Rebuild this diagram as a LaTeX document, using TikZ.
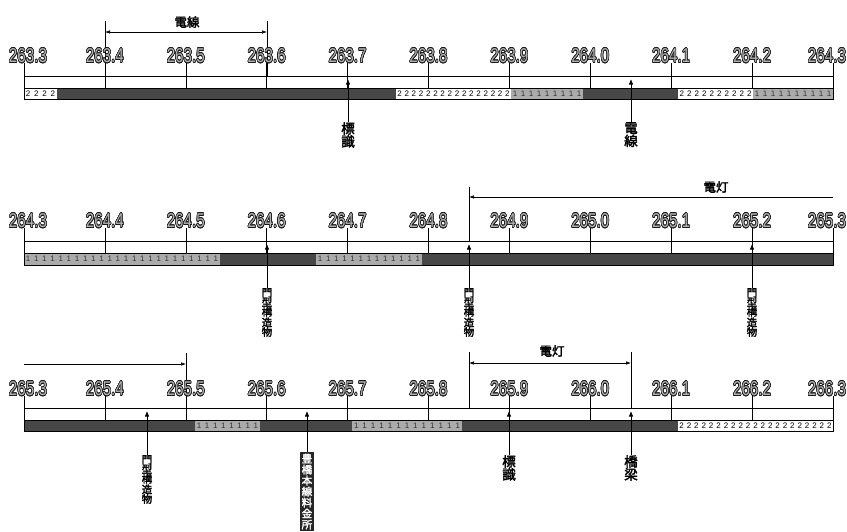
\documentclass[tikz,border=0pt]{standalone}
\usepackage{fontspec}
\setmainfont{Liberation Sans}
\newfontfamily\jpf{Noto Sans CJK JP}[FakeBold=2.5]
\usepackage[copies]{contour}
\contourlength{0.7pt}
\usetikzlibrary{arrows.meta}

\tikzset{
  kmlbl/.style={inner sep=0pt, font=\fontsize{20}{20}\selectfont},
  kmtick/.style={line width=0.6pt},
  darkband/.style={fill=black!72},
  lightband/.style={fill=black!33},
  whiteband/.style={fill=white},
  twos/.style={inner sep=0pt, font=\fontsize{8}{8}\selectfont},
  ones/.style={inner sep=0pt, font=\fontsize{8}{8}\selectfont, text=black!80},
  vlbl/.style={inner sep=0pt, anchor=north, align=center, font=\jpf\fontsize{10.5}{9.6}\selectfont},
  vlblbig/.style={vlbl, font=\jpf\fontsize{13.5}{13}\selectfont},
  tollbox/.style={vlbl, fill=black!85, text=white, inner sep=1.5pt, font=\jpf\fontsize{10.5}{11}\selectfont},
  toplbl/.style={inner sep=0pt, font=\jpf\fontsize{12.5}{12}\selectfont},
  uparr/.style={line width=0.6pt, -{Triangle[length=5pt,width=4pt]}},
  dimarr/.style={line width=0.6pt, {Latex[length=5pt,width=3.5pt]}-{Latex[length=5pt,width=3.5pt]}},
  onearr/.style={line width=0.6pt, -{Latex[length=5pt,width=3.5pt]}},
}
\newcommand\kmnum[1]{\scalebox{0.76}[1]{\textcolor{black!30}{\contour{black!90}{#1}}}}

\begin{document}
\begin{tikzpicture}[x=1pt,y=-1pt]
\useasboundingbox (0,0) rectangle (847,531);

% ---------- row 1 : 263.3 -- 264.3
\foreach \xa/\xb in {57/396,583/678} \fill[darkband] (\xa,88) rectangle (\xb,99);
\foreach \xa/\xb in {511/583,753/833} {
  \fill[lightband] (\xa,88) rectangle (\xb,99);
  \pgfmathtruncatemacro\nn{round((\xb-\xa)/8.2)}
  \foreach \k in {1,...,\nn} \node[ones] at ({\xa+(\k-0.5)*(\xb-\xa)/\nn},93.5) {1};
}
\foreach \xa/\xb in {24/57,396/511,678/753} {
  \fill[whiteband] (\xa,88) rectangle (\xb,99);
  \pgfmathtruncatemacro\nn{round((\xb-\xa)/7.4)}
  \foreach \k in {1,...,\nn} \node[twos] at ({\xa+(\k-0.5)*(\xb-\xa)/\nn},93.5) {2};
}
\draw[line width=0.6pt] (24,88) rectangle (833,99);
\draw[kmtick] (24,76) -- (833,76);
% wires over 263.4--263.6
\draw[kmtick] (105,21) -- (105,76);
\draw[kmtick] (267,21) -- (267,76);
\coordinate (w1) at (105,32); \coordinate (w2) at (267,32);
\draw[dimarr] (w1) -- (w2);
\node[toplbl] (wirelbl) at (187,22) {電線};
\foreach \i/\dx in {0/4,1/0,2/0,3/0,4/0,5/0,6/0,7/0,8/0,9/0,10/-6} {
  \pgfmathsetmacro\xx{24+80.9*\i}
  \pgfmathtruncatemacro\kt{2633+\i}
  \pgfmathtruncatemacro\ka{(\kt+0.5)/10}
  \pgfmathtruncatemacro\kb{\kt-10*\ka}
  \node[kmlbl] (a\i) at (\xx+\dx,56) {\kmnum{\ka.\kb}};
  \draw[kmtick] (\xx,63) -- (\xx,88);
}
\node[vlblbig] (sign1) at (348,122) {標\\識};
\node[vlblbig] (wire1) at (631,122) {電\\線};
\coordinate (t1) at (348,79.5); \coordinate (t2) at (631,79.5);
\draw[uparr] (sign1.north) -- (t1);
\draw[uparr] (wire1.north) -- (t2);

% ---------- row 2 : 264.3 -- 265.3
\foreach \xa/\xb in {220/316,422/833} \fill[darkband] (\xa,253) rectangle (\xb,265);
\foreach \xa/\xb in {24/220,316/422} {
  \fill[lightband] (\xa,253) rectangle (\xb,265);
  \pgfmathtruncatemacro\nn{round((\xb-\xa)/8.2)}
  \foreach \k in {1,...,\nn} \node[ones] at ({\xa+(\k-0.5)*(\xb-\xa)/\nn},259) {1};
}
\draw[line width=0.6pt] (24,253) rectangle (833,265);
\draw[kmtick] (24,241) -- (833,241);
% lighting from 264.85 onwards
\draw[kmtick] (469,187) -- (469,241);
\coordinate (l1) at (469,197); \coordinate (l2) at (833,197);
\draw[onearr] (l2) -- (l1);
\node[toplbl] (lamplbl1) at (716,187) {電灯};
\foreach \i/\dx in {0/4,1/0,2/0,3/0,4/0,5/0,6/0,7/0,8/0,9/0,10/-6} {
  \pgfmathsetmacro\xx{24+80.9*\i}
  \pgfmathtruncatemacro\kt{2643+\i}
  \pgfmathtruncatemacro\ka{(\kt+0.5)/10}
  \pgfmathtruncatemacro\kb{\kt-10*\ka}
  \node[kmlbl] (b\i) at (\xx+\dx,221) {\kmnum{\ka.\kb}};
  \draw[kmtick] (\xx,228) -- (\xx,253);
}
\node[vlbl] (gate1) at (267,288) {門\\型\\構\\造\\物};
\node[vlbl] (gate2) at (469,288) {門\\型\\構\\造\\物};
\node[vlbl] (gate3) at (752,288) {門\\型\\構\\造\\物};
\coordinate (t3) at (267,244.5); \coordinate (t4) at (469,244.5); \coordinate (t5) at (752,244.5);
\draw[uparr] (gate1.north) -- (t3);
\draw[uparr] (gate2.north) -- (t4);
\draw[uparr] (gate3.north) -- (t5);

% ---------- row 3 : 265.3 -- 266.3
\foreach \xa/\xb in {24/195,260/352,462/678} \fill[darkband] (\xa,420) rectangle (\xb,431);
\foreach \xa/\xb in {195/260,352/462} {
  \fill[lightband] (\xa,420) rectangle (\xb,431);
  \pgfmathtruncatemacro\nn{round((\xb-\xa)/8.2)}
  \foreach \k in {1,...,\nn} \node[ones] at ({\xa+(\k-0.5)*(\xb-\xa)/\nn},425.5) {1};
}
\foreach \xa/\xb in {678/833} {
  \fill[whiteband] (\xa,420) rectangle (\xb,431);
  \pgfmathtruncatemacro\nn{round((\xb-\xa)/7.4)}
  \foreach \k in {1,...,\nn} \node[twos] at ({\xa+(\k-0.5)*(\xb-\xa)/\nn},425.5) {2};
}
\draw[line width=0.6pt] (24,420) rectangle (833,431);
\draw[kmtick] (24,408) -- (833,408);
% lighting continued up to 265.5
\draw[kmtick] (186,353) -- (186,408);
\coordinate (l3) at (24,364); \coordinate (l4) at (186,364);
\draw[onearr] (l3) -- (l4);
% lighting 265.85 -- 266.05
\draw[kmtick] (469,352) -- (469,408);
\draw[kmtick] (631,352) -- (631,408);
\coordinate (l5) at (469,363); \coordinate (l6) at (631,363);
\draw[dimarr] (l5) -- (l6);
\node[toplbl] (lamplbl2) at (552,351) {電灯};
\foreach \i/\dx in {0/4,1/0,2/0,3/0,4/0,5/0,6/0,7/0,8/0,9/0,10/-6} {
  \pgfmathsetmacro\xx{24+80.9*\i}
  \pgfmathtruncatemacro\kt{2653+\i}
  \pgfmathtruncatemacro\ka{(\kt+0.5)/10}
  \pgfmathtruncatemacro\kb{\kt-10*\ka}
  \node[kmlbl] (c\i) at (\xx+\dx,389) {\kmnum{\ka.\kb}};
  \draw[kmtick] (\xx,396) -- (\xx,420);
}
\node[vlbl] (gate4) at (147,455) {門\\型\\構\\造\\物};
\node[tollbox] (toll) at (307,452) {豊\\橋\\本\\線\\料\\金\\所};
\node[vlblbig] (sign2) at (509,455) {標\\識};
\node[vlblbig] (bridge) at (631,455) {橋\\梁};
\coordinate (t6) at (147,411.5); \coordinate (t7) at (307,411.5);
\coordinate (t8) at (509,411.5); \coordinate (t9) at (631,411.5);
\draw[uparr] (gate4.north) -- (t6);
\draw[uparr] (toll.north) -- (t7);
\draw[uparr] (sign2.north) -- (t8);
\draw[uparr] (bridge.north) -- (t9);
\end{tikzpicture}
\end{document}
